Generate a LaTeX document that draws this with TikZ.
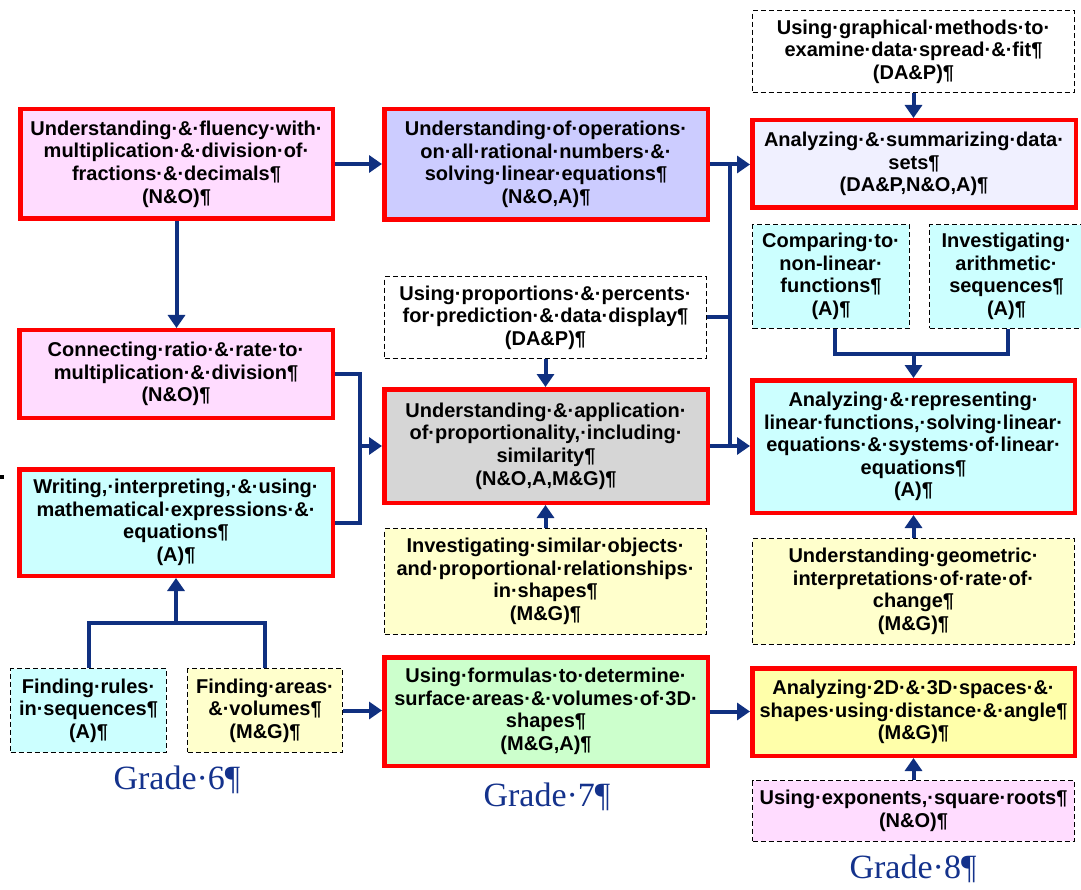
\documentclass[tikz,border=0pt]{standalone}
\usepackage{fontspec}
\setmainfont{Liberation Sans}
\newfontfamily\gradefont{Liberation Serif}
\usetikzlibrary{arrows.meta}
\definecolor{navy}{RGB}{16,48,128}
\definecolor{pinkc}{RGB}{255,220,255}
\definecolor{lavc}{RGB}{204,204,255}
\definecolor{lightlav}{RGB}{240,240,255}
\definecolor{cyanc}{RGB}{204,255,255}
\definecolor{yelc}{RGB}{255,255,204}
\definecolor{yeltwo}{RGB}{255,255,170}
\definecolor{greyc}{RGB}{214,214,214}
\definecolor{greenc}{RGB}{204,255,204}
\definecolor{gradec}{RGB}{20,50,140}
\tikzset{
  txt/.style={align=center, inner sep=0pt, font=\fontsize{20}{22.6}\selectfont\bfseries},
  rbox/.style={txt, draw=red, line width=4.5pt},
  dbox/.style={txt, draw=black, line width=1.3pt, dash pattern=on 5pt off 3pt},
  sz/.style 2 args={minimum width=#1, minimum height=#2},
  conn/.style={draw=navy, line width=4pt},
  arr/.style={conn, -{Triangle[width=17pt,length=13pt]}},
  grade/.style={font=\gradefont\fontsize{34}{36}\selectfont, text=gradec, inner sep=0pt}
}
\begin{document}
\begin{tikzpicture}[x=1pt,y=-1pt]
\useasboundingbox (0,0) rectangle (1081,890);
\fill[white] (0,0) rectangle (1081,890);

% connectors (drawn first, boxes on top)
\coordinate (busT) at (730,164);
\coordinate (busB) at (730,446);
\coordinate (lb) at (360,446);
\coordinate (jr) at (913.5,354);
\coordinate (jl) at (176,623);

% boxes
\node[rbox, fill=pinkc, sz={312.5}{109.5}] (n1) at (176.5,164) {Understanding·\&·fluency·with·\\multiplication·\&·division·of·\\fractions·\&·decimals¶\\(N\&O)¶};
\node[rbox, fill=lavc, sz={323.5}{110.5}] (n2) at (546,164.5) {Understanding·of·operations·\\on·all·rational·numbers·\&·\\solving·linear·equations¶\\(N\&O,A)¶};
\node[dbox, fill=white, sz={321.7}{81.7}] (n3) at (913.5,51.5) {Using·graphical·methods·to·\\examine·data·spread·\&·fit¶\\(DA\&P)¶};
\node[rbox, fill=lightlav, sz={323.5}{87.5}] (n4) at (914,164) {Analyzing·\&·summarizing·data·\\sets¶\\(DA\&P,N\&O,A)¶};
\node[dbox, fill=cyanc, sz={156.7}{103.7}] (n5) at (831,276.5) {Comparing·to·\\non-linear·\\functions¶\\(A)¶};
\node[dbox, fill=cyanc, sz={153.7}{103.7}] (n6) at (1006.5,276.5) {Investigating·\\arithmetic·\\sequences¶\\(A)¶};
\node[rbox, fill=pinkc, sz={313.5}{87.5}] (n7) at (176,374) {Connecting·ratio·\&·rate·to·\\multiplication·\&·division¶\\(N\&O)¶};
\node[dbox, fill=white, sz={321.7}{81.7}] (n8) at (545.5,317.5) {Using·proportions·\&·percents·\\for·prediction·\&·data·display¶\\(DA\&P)¶};
\node[rbox, fill=cyanc, sz={322.5}{132.5}] (n9) at (913.5,446.5) {Analyzing·\&·representing·\\linear·functions,·solving·linear·\\equations·\&·systems·of·linear·\\equations¶\\(A)¶};
\node[rbox, fill=cyanc, sz={313.5}{106.5}] (n10) at (176,522.5) {Writing,·interpreting,·\&·using·\\mathematical·expressions·\&·\\equations¶\\(A)¶};
\node[rbox, fill=greyc, sz={323.5}{113.5}] (n11) at (546,446) {Understanding·\&·application·\\of·proportionality,·including·\\similarity¶\\(N\&O,A,M\&G)¶};
\node[dbox, fill=yelc, sz={321.7}{105.7}] (n12) at (545.5,581.5) {Investigating·similar·objects·\\and·proportional·relationships·\\in·shapes¶\\(M\&G)¶};
\node[dbox, fill=yelc, sz={321.7}{105.7}] (n13) at (913.5,591.5) {Understanding·geometric·\\interpretations·of·rate·of·\\change¶\\(M\&G)¶};
\node[dbox, fill=cyanc, sz={155.7}{83.7}] (n14) at (88.5,710.5) {Finding·rules·\\in·sequences¶\\(A)¶};
\node[dbox, fill=yelc, sz={154.7}{83.7}] (n15) at (265,710.5) {Finding·areas·\\\&·volumes¶\\(M\&G)¶};
\node[rbox, fill=greenc, sz={323.5}{108.5}] (n16) at (546,711.5) {Using·formulas·to·determine·\\surface·areas·\&·volumes·of·3D·\\shapes¶\\(M\&G,A)¶};
\node[rbox, fill=yeltwo, sz={322.5}{87.5}] (n17) at (913.5,712) {Analyzing·2D·\&·3D·spaces·\&·\\shapes·using·distance·\&·angle¶\\(M\&G)¶};
\node[dbox, fill=pinkc, sz={321.7}{60.7}] (n18) at (913.5,811) {Using·exponents,·square·roots¶\\(N\&O)¶};

% connectors
\draw[arr] (n1.east) -- (n1.east -| n2.west);
\draw[arr] (n1.south) -- (n1.south |- n7.north);
\draw[arr] (n2.east) -- (n2.east -| n4.west);
\draw[conn] (busT) -- (busB);
\draw[conn] (n8.east) -- (n8.east -| busT);
\draw[arr] (n11.east) -- (n11.east -| n9.west);
\draw[arr] (n3.south) -- (n3.south |- n4.north);
\draw[conn] (835,329) |- (jr) -| (1008,329);
\draw[arr] (jr) -- (jr |- n9.north);
\draw[arr] (n13.north) -- (n13.north |- n9.south);
\draw[conn] (n7.east) -| (lb) |- (n10.east);
\draw[conn] (lb |- n7.east) -- (lb |- n10.east);
\draw[arr] (lb) -- (lb -| n11.west);
\draw[arr] (n8.south) -- (n8.south |- n11.north);
\draw[arr] (n12.north) -- (n12.north |- n11.south);
\draw[conn] (n14.north) |- (jl) -| (n15.north);
\draw[arr] (jl) -- (jl |- n10.south);
\draw[arr] (n15.east) -- (n15.east -| n16.west);
\draw[arr] (n16.east) -- (n16.east -| n17.west);
\draw[arr] (n18.north) -- (n18.north |- n17.south);

% grade labels
\node[grade] (g6) at (177,780) {Grade·6¶};
\node[grade] (g7) at (547,797) {Grade·7¶};
\node[grade] (g8) at (913,869) {Grade·8¶};

% stray mark
\fill[black] (0,474.5) rectangle (4,479);
\end{tikzpicture}
\end{document}
